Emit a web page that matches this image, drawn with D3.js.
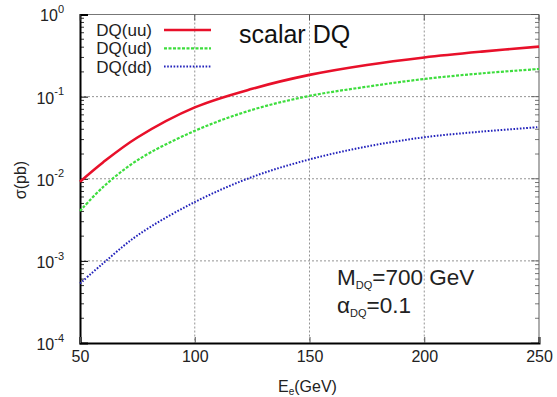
<!DOCTYPE html>
<html>
<head>
<meta charset="utf-8">
<script src="https://cdn.jsdelivr.net/npm/d3@7"></script>
<style>
  html, body { margin: 0; padding: 0; background: #fff; }
  svg { display: block; font-family: "Liberation Sans", Arial, sans-serif; }
</style>
</head>
<body>
<script>
// values
const energy = [50, 60, 75, 100, 125, 150, 175, 200, 225, 250];
const sigmaUU = [0.0092, 0.0158, 0.0318, 0.074, 0.1245, 0.184, 0.243, 0.30, 0.353, 0.406];
const sigmaUD = [0.00405, 0.0079, 0.0168, 0.0383, 0.069, 0.102, 0.132, 0.164, 0.192, 0.217];
const sigmaDD = [0.00053, 0.00093, 0.00204, 0.0052, 0.0105, 0.0172, 0.0247, 0.032, 0.0375, 0.0425];

const seriesNames = ["DQ(uu)", "DQ(ud)", "DQ(dd)"];
const xTicks = [50, 100, 150, 200, 250];
const yExponents = [-4, -3, -2, -1, 0];

// sizes
const width = 557, height = 397;
const plot = { left: 80, right: 539, top: 14.5, bottom: 343 };

const styles = [
  { color: "#e8102a", width: 2.6, dash: null },
  { color: "#3ddd3d", width: 2.2, dash: "3,1.5" },
  { color: "#2222bb", width: 2, dash: "1.6,1.6" },
];

const svg = d3.select("body").append("svg").attr("width", width).attr("height", height);

const x = d3.scaleLinear().domain([50, 250]).range([plot.left, plot.right]);
const y = d3.scaleLog().domain([1e-4, 1]).range([plot.bottom, plot.top]);

// grid
const grid = svg.append("g").attr("stroke", "#888").attr("stroke-width", 0.9).attr("stroke-dasharray", "2,2");
grid.selectAll("line.gx")
  .data(xTicks.slice(1, -1))
  .enter().append("line")
  .attr("x1", (d) => x(d)).attr("x2", (d) => x(d))
  .attr("y1", plot.top).attr("y2", plot.bottom);
grid.selectAll("line.gy")
  .data(yExponents.slice(1, -1))
  .enter().append("line")
  .attr("x1", plot.left).attr("x2", plot.right)
  .attr("y1", (d) => y(Math.pow(10, d))).attr("y2", (d) => y(Math.pow(10, d)));

// frame: top / right grey, left / bottom black
svg.append("line").attr("x1", plot.left).attr("x2", plot.right).attr("y1", plot.top).attr("y2", plot.top)
  .attr("stroke", "#777").attr("stroke-width", 1.2);
svg.append("line").attr("x1", plot.right).attr("x2", plot.right).attr("y1", plot.top).attr("y2", plot.bottom)
  .attr("stroke", "#777").attr("stroke-width", 1.2);

// y axis (left) with minor ticks inside
const minorVals = [];
yExponents.slice(0, -1).forEach((e) => {
  for (let k = 2; k <= 9; k++) minorVals.push(k * Math.pow(10, e));
});
const yAxis = svg.append("g")
  .attr("transform", `translate(${plot.left},0)`)
  .call(d3.axisLeft(y).tickValues(yExponents.map((e) => Math.pow(10, e))).tickSize(-8).tickPadding(9).tickFormat(""));
yAxis.select(".domain").attr("stroke", "#000").attr("stroke-width", 2);
yAxis.selectAll(".tick line").attr("stroke", "#000");
yAxis.selectAll(".tick text").each(function (d) {
  const t = d3.select(this).attr("font-size", 16).attr("fill", "#222").attr("dy", "0.4em").attr("x", -16);
  t.append("tspan").text("10");
  t.append("tspan").attr("font-size", 11).attr("dy", "-0.75em").text(Math.round(Math.log10(d)));
});
svg.append("g").selectAll("line")
  .data(minorVals)
  .enter().append("line")
  .attr("x1", plot.left).attr("x2", plot.left + 4)
  .attr("y1", (d) => y(d)).attr("y2", (d) => y(d))
  .attr("stroke", "#000").attr("stroke-width", 0.8);
// right side ticks
svg.append("g").selectAll("line")
  .data(minorVals)
  .enter().append("line")
  .attr("x1", plot.right).attr("x2", plot.right - 4)
  .attr("y1", (d) => y(d)).attr("y2", (d) => y(d))
  .attr("stroke", "#555").attr("stroke-width", 0.8);
svg.append("g").selectAll("line")
  .data(yExponents)
  .enter().append("line")
  .attr("x1", plot.right).attr("x2", plot.right - 8)
  .attr("y1", (d) => y(Math.pow(10, d))).attr("y2", (d) => y(Math.pow(10, d)))
  .attr("stroke", "#555").attr("stroke-width", 0.8);

// x axis (bottom)
const xAxis = svg.append("g")
  .attr("transform", `translate(0,${plot.bottom})`)
  .call(d3.axisBottom(x).tickValues(xTicks).tickSize(-6).tickPadding(8));
xAxis.select(".domain").attr("stroke", "#000").attr("stroke-width", 2);
xAxis.selectAll(".tick line").attr("stroke", "#555");
xAxis.selectAll(".tick text").attr("font-size", 16).attr("fill", "#222")
  .attr("font-family", "Liberation Sans, Arial, sans-serif");
// top ticks
svg.append("g").selectAll("line")
  .data(xTicks)
  .enter().append("line")
  .attr("x1", (d) => x(d)).attr("x2", (d) => x(d))
  .attr("y1", plot.top).attr("y2", plot.top + 6)
  .attr("stroke", "#555");

// curves
const curves = [sigmaUU, sigmaUD, sigmaDD];
const line = d3.line()
  .x((d) => x(d[0]))
  .y((d) => y(d[1]))
  .curve(d3.curveCatmullRom.alpha(0.5));
svg.append("g").selectAll("path")
  .data(curves)
  .enter().append("path")
  .attr("fill", "none")
  .attr("stroke", (d, i) => styles[i].color)
  .attr("stroke-width", (d, i) => styles[i].width)
  .attr("stroke-dasharray", (d, i) => styles[i].dash)
  .attr("d", (vals) => line(energy.map((e, i) => [e, vals[i]])));

// legend
const legend = svg.append("g").attr("font-size", 17).attr("fill", "#222");
seriesNames.forEach((name, i) => {
  const ly = 30 + i * 18.3;
  legend.append("text").attr("x", 152).attr("y", ly).attr("dy", "0.36em")
    .attr("text-anchor", "end").text(name);
  legend.append("line").attr("x1", 164).attr("x2", 211).attr("y1", ly).attr("y2", ly)
    .attr("stroke", styles[i].color).attr("stroke-width", styles[i].width)
    .attr("stroke-dasharray", styles[i].dash);
});

svg.append("text").attr("x", 239).attr("y", 43).attr("font-size", 25).attr("fill", "#111")
  .text("scalar DQ");

// annotation
const note = svg.append("g").attr("font-size", 22.5).attr("fill", "#222");
const m = note.append("text").attr("x", 337).attr("y", 285);
m.append("tspan").text("M");
m.append("tspan").attr("font-size", 11).attr("dy", 4).text("DQ");
m.append("tspan").attr("dy", -4).text("=700 GeV");
const a = note.append("text").attr("x", 337).attr("y", 313);
a.append("tspan").text("α");
a.append("tspan").attr("font-size", 11).attr("dy", 4).text("DQ");
a.append("tspan").attr("dy", -4).text("=0.1");

// axis titles
const xt = svg.append("text").attr("x", 278).attr("y", 392).attr("font-size", 16).attr("fill", "#222");
xt.append("tspan").text("E");
xt.append("tspan").attr("font-size", 10).attr("dy", 3).text("e");
xt.append("tspan").attr("dy", -3).text("(GeV)");

svg.append("text")
  .attr("transform", "translate(26,180) rotate(-90)")
  .attr("text-anchor", "middle").attr("font-size", 16).attr("fill", "#222")
  .text("σ(pb)");
</script>
</body>
</html>
